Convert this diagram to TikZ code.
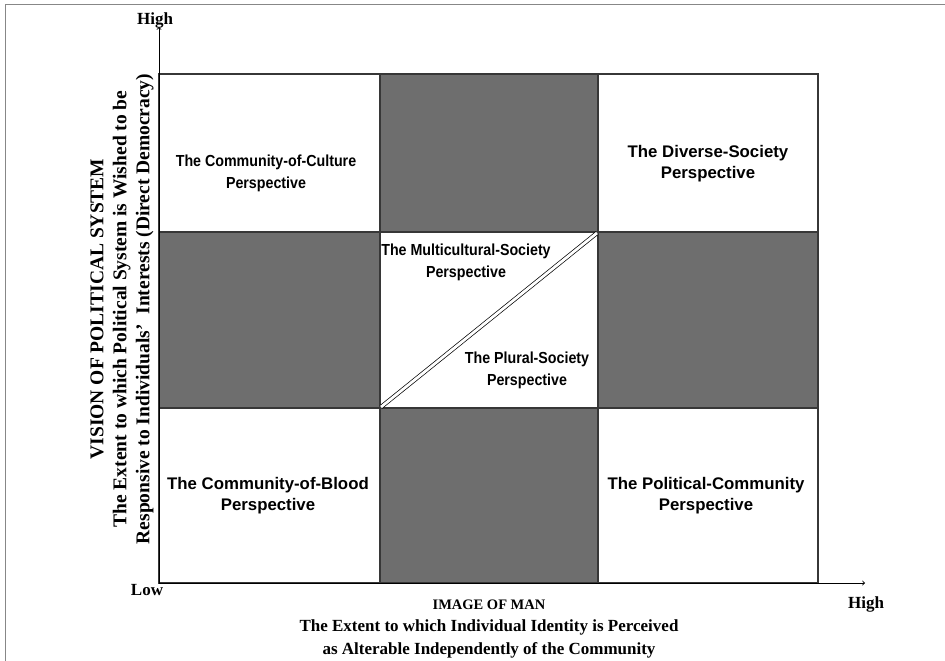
\documentclass[tikz,border=0pt]{standalone}
\usepackage{xcolor}
\usepackage{fontspec}
\setmainfont{Liberation Serif}
\newfontfamily\cellfont{Liberation Sans}
\usepackage{tikz}

\definecolor{cellgray}{RGB}{110,110,110}
\definecolor{gridgray}{RGB}{55,55,55}
\definecolor{framegray}{RGB}{135,135,135}

\begin{document}
\begin{tikzpicture}[x=1pt,y=-1pt,
                    cell/.style={font=\cellfont\bfseries\fontsize{16.8}{21}\selectfont,
                                 align=center},
                    narrowcell/.style={cell, font=\cellfont\bfseries\fontsize{16}{22}\selectfont,
                                       xscale=0.89, transform shape},
                    axislabel/.style={font=\bfseries\fontsize{17}{22.5}\selectfont,
                                      align=center},
                    shaded/.style={fill=cellgray}
                   ]
  \useasboundingbox (0,0) rectangle (945,661);
  \draw[framegray, line width=1.5pt] (5.5,661) -- (5.5,4.5) -- (945,4.5);

  \coordinate (origin) at (159,583);
  \coordinate (yTop) at (159,27);
  \coordinate (xEnd) at (865,583);
  \coordinate (gridNW) at (159,74);
  \coordinate (gridSE) at (818,583);

  % gray cells
  \fill[shaded] (380,74) rectangle (598,232);
  \fill[shaded] (159,232) rectangle (380,408);
  \fill[shaded] (598,232) rectangle (818,408);
  \fill[shaded] (380,408) rectangle (598,583);

  \draw[gridgray, line width=1.4pt] (gridNW) rectangle (gridSE)
       (380,74) -- (380,583) (598,74) -- (598,583)
       (159,232) -- (818,232) (159,408) -- (818,408);

  \coordinate (diagLow) at (381,407);
  \coordinate (diagHigh) at (597,233);
  \draw[black, line width=0.7pt, double=white, double distance=2.8pt] (diagLow) -- (diagHigh);

  % axes
  \draw[->, line width=0.9pt] (origin) -- (yTop);
  \draw[->, line width=0.9pt] (origin) -- (xEnd);

  \node[narrowcell] (cultureText) at (266,173) {The Community-of-Culture\\Perspective};
  \node[cell] (diverseText) at (708,164) {The Diverse-Society\\Perspective};
  \node[cell] (bloodText) at (268,496) {The Community-of-Blood\\Perspective};
  \node[cell] (politicalText) at (706,496) {The Political-Community\\Perspective};
  \node[narrowcell] (multiText) at (466,262) {The Multicultural-Society\\Perspective};
  \node[narrowcell] (pluralText) at (527,370) {The Plural-Society\\Perspective};

  \node[axislabel] (highY) at (155,20) {High};
  \node[axislabel] (lowX) at (147,590) {Low};
  \node[axislabel] (highX) at (866,604) {High};
  \node[axislabel] (manLabel) at (489,629)
       {{\fontsize{14.5}{22.5}\selectfont IMAGE OF MAN}\\The Extent to which Individual Identity is Perceived\\
        as Alterable Independently of the Community};
  \node[axislabel, font=\bfseries\fontsize{19.5}{23}\selectfont, rotate=90] (visionLabel) at (122,309)
       {VISION OF POLITICAL SYSTEM\\The Extent to which Political System is Wished to be\\
        Responsive to Individuals'\ \ Interests (Direct Democracy)};
\end{tikzpicture}
\end{document}
